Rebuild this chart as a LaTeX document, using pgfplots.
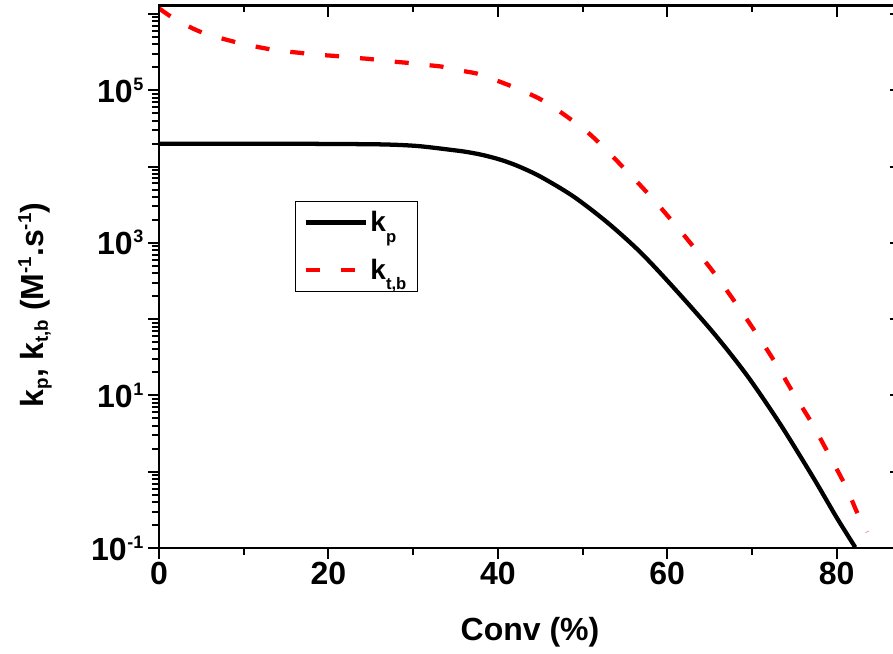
\documentclass[border=0pt]{standalone}
\usepackage{fontspec}
\setmainfont{Liberation Sans}
\usepackage{pgfplots}
\pgfplotsset{compat=1.18}
\newcommand{\tsup}[1]{\kern0.5pt\raise9pt\hbox{\fontsize{13.5}{13.5}\selectfont #1}}
\newcommand{\sups}[1]{\raise9.5pt\hbox{\fontsize{14}{14}\selectfont #1}}
\newcommand{\subs}[1]{\lower3pt\hbox{\fontsize{14}{14}\selectfont #1}}
\newcommand{\lsubs}[1]{\lower8pt\hbox{\fontsize{12.5}{12.5}\selectfont #1}}
\newcommand{\bigf}{\fontsize{24}{28}\selectfont\bfseries}
\begin{document}
\begin{tikzpicture}
\begin{axis}[
  name=main,
  scale only axis,
  width=556.5pt, height=406.7pt,
  xmin=0, xmax=87.6,
  ymode=log, ymin=0.1, ymax=1.285e6,
  axis line style={line width=1.8pt},
  tick style={line width=1.5pt, black},
  major tick length=8.25pt, minor tick length=5pt,
  xtick={0,20,40,60,80},
  minor xtick={10,30,50,70},
  ytick={0.1,1,10,100,1000,10000,100000,1000000},
  tick label style={font=\bigf},
  xticklabel style={yshift=1.5pt},
  label style={font=\bigf},
  tick align=outside,
  xtick pos=bottom, ytick pos=left,
  xticklabels={0,20,40,60,80},
  yticklabels={10\tsup{-1},,10\tsup{1},,10\tsup{3},,10\tsup{5},},
  minor ytick={0.2,0.3,0.4,0.5,0.6,0.7,0.8,0.9,
    2,3,4,5,6,7,8,9,
    20,30,40,50,60,70,80,90,
    200,300,400,500,600,700,800,900,
    2000,3000,4000,5000,6000,7000,8000,9000,
    20000,30000,40000,50000,60000,70000,80000,90000,
    200000,300000,400000,500000,600000,700000,800000,900000},
  xlabel={Conv (\%)},
  xlabel style={at={(axis description cs:0.5,-0.156)}, anchor=center},
  ylabel={k\subs{p}, k\subs{t,b} (M\sups{-1}.s\sups{-1})},
  ylabel style={at={(axis description cs:-0.167,0.448)}, anchor=center},
  legend style={at={(0.1833,0.6404)}, anchor=north west, draw=black, line width=0.8pt,
    font=\fontsize{21}{24}\selectfont\bfseries, inner xsep=6pt, inner ysep=5.5pt, row sep=15pt},
  legend cell align=left,
  legend image code/.code={\draw[#1] (0pt,0pt) -- (45pt,0pt);},
]
\addplot[black, line width=3.2pt, smooth, tension=0.5] coordinates {
(0,19950) (5,19950) (10,19950) (15,19900) (20,19800) (26.5,19500)
(30.5,18600) (34.4,16600) (36.4,15500) (38.3,14100) (40.3,12300)
(42.3,10230) (45.0,7413) (48.9,4074) (52.9,1862) (56.8,759)
(60.7,263) (65.4,67.3) (69.4,18.4) (73.3,4.27) (77.2,0.851)
(80.0,0.251) (82.2,0.102)
};
\addlegendentry{k\lsubs{p}}
\addplot[red, line width=3.2pt, dash pattern=on 10.5pt off 15.75pt, smooth, tension=0.5] coordinates {
(0,1188000) (1.5,912000) (4,645700) (5.8,537000) (8.4,446700)
(10.2,398100) (12.5,354800) (14.1,331100) (16.7,309000) (18.2,295100)
(20.8,281800) (22.6,269200) (24.9,257000) (26.7,242700) (29.3,229100)
(30.8,218800) (33.4,204200) (35,186200) (37.5,166000) (39.1,144500)
(41.7,112200) (43.2,95500) (46,66100) (50.7,27540) (54.8,9772)
(58.6,3467) (62.2,1175) (65.5,407.4) (68.4,144.5) (71.2,50.1)
(73.3,21.4) (75.1,9.77) (76.9,4.68) (78.1,2.69) (79.6,1.318)
(81.2,0.603) (82.4,0.295) (83.6,0.162)
};
\addlegendentry{k\lsubs{t,b}}
\end{axis}
\begin{axis}[
  scale only axis,
  width=556.5pt, height=406.7pt,
  xmin=0, xmax=87.6,
  ymode=log, ymin=0.1, ymax=1.285e6,
  axis line style={line width=1.8pt},
  tick style={line width=1.5pt, black},
  major tick length=8.25pt, minor tick length=5pt,
  xtick={0,20,40,60,80},
  minor xtick={10,30,50,70},
  ytick={0.1,1,10,100,1000,10000,100000,1000000},
  tick align=inside,
  xtick pos=top, ytick pos=right,
  xticklabels={}, yticklabels={},
  yminorticks=false,
]
\addplot[draw=none] coordinates {(1,1)};
\end{axis}
\pgfresetboundingbox
\path[use as bounding box] ([shift={(-119.25pt,-79.5pt)}]main.south west) rectangle ([shift={(-6pt,4.275pt)}]main.north east);
\end{tikzpicture}
\end{document}
